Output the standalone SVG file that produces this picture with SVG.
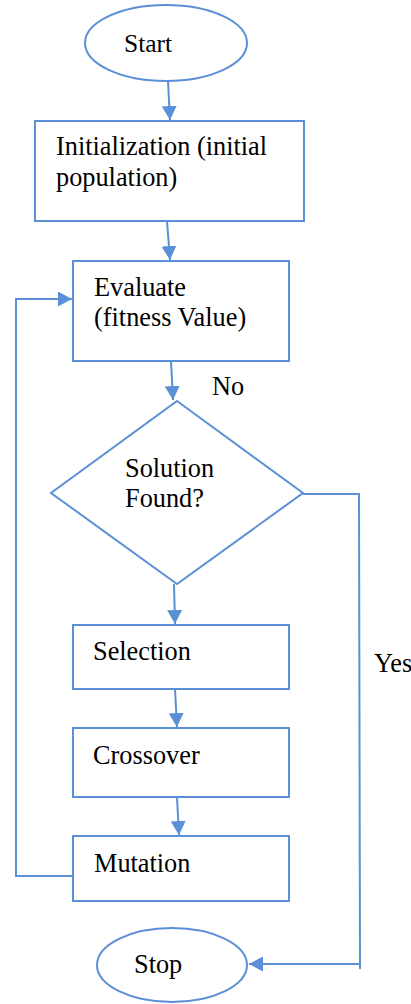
<svg xmlns="http://www.w3.org/2000/svg" width="411" height="1004" viewBox="0 0 411 1004">
<style>
.s{fill:#fff;stroke:#5B8FD6;stroke-width:2}
.c{fill:none;stroke:#5B8FD6;stroke-width:2}
</style>
<defs>
<marker id="ah" markerUnits="userSpaceOnUse" markerWidth="15" markerHeight="16" refX="14" refY="7.5" orient="auto" viewBox="0 0 15 16">
<path d="M0,0 L14,7.5 L0,15 z" fill="#5B8FD6"/>
</marker>
</defs>
<rect width="411" height="1004" fill="#fff"/>
<g font-family="'Liberation Serif', 'Times New Roman', 'DejaVu Serif', serif" font-size="26.3" fill="#000">
<g id="connectors">
<line class="c" x1="168" y1="81" x2="170" y2="120" marker-end="url(#ah)"/>
<line class="c" x1="167" y1="221" x2="170" y2="260" marker-end="url(#ah)"/>
<line class="c" x1="171" y1="361" x2="173" y2="400" marker-end="url(#ah)"/>
<line class="c" x1="174" y1="584" x2="175" y2="624" marker-end="url(#ah)"/>
<line class="c" x1="175" y1="689" x2="177" y2="727" marker-end="url(#ah)"/>
<line class="c" x1="177" y1="797" x2="179" y2="835" marker-end="url(#ah)"/>
<polyline class="c" points="73,876 16,876 16,299 72,299" marker-end="url(#ah)"/>
<polyline class="c" points="303,494 359,494 360,969"/>
<line class="c" x1="360" y1="964" x2="249" y2="964" marker-end="url(#ah)"/>
<text x="212" y="395">No</text>
<text x="374" y="672">Yes</text>
</g>
<g id="start">
<ellipse class="s" cx="166" cy="43" rx="81" ry="38"/>
<text x="124" y="52" font-size="25.5">Start</text>
</g>
<g id="init">
<rect class="s" x="35" y="121" width="269" height="100"/>
<text x="56" y="155">Initialization (initial</text>
<text x="56" y="186">population)</text>
</g>
<g id="evaluate">
<rect class="s" x="73" y="261" width="216" height="100"/>
<text x="94" y="296">Evaluate</text>
<text x="94" y="326">(fitness Value)</text>
</g>
<g id="decision">
<polygon class="s" points="177,401 303,493 177,584 51,493"/>
<text x="125" y="477">Solution</text>
<text x="125" y="507">Found?</text>
</g>
<g id="selection">
<rect class="s" x="73" y="625" width="216" height="64"/>
<text x="93" y="660">Selection</text>
</g>
<g id="crossover">
<rect class="s" x="73" y="728" width="216" height="69"/>
<text x="93" y="764">Crossover</text>
</g>
<g id="mutation">
<rect class="s" x="73" y="836" width="216" height="65"/>
<text x="94" y="872">Mutation</text>
</g>
<g id="stop">
<ellipse class="s" cx="172" cy="965" rx="75" ry="37"/>
<text x="134" y="973">Stop</text>
</g>
</g>
</svg>
